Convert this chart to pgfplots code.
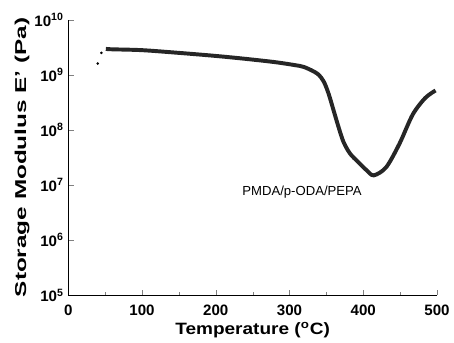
\documentclass[border=0pt]{standalone}
\usepackage{fontspec}
\setmainfont{Liberation Sans}
\usepackage{pgfplots}
\pgfplotsset{compat=1.18}
\begin{document}
\begin{tikzpicture}
\begin{axis}[
  scale only axis,
  width=281pt, height=210pt,
  xmin=0, xmax=500,
  ymin=1e5, ymax=1e10,
  ymode=log, log basis y=10,
  axis lines*=left,
  axis line style={line width=0.8pt},
  tick align=inside,
  xtick={0,100,200,300,400,500},
  minor x tick num=1,
  ytick={1e5,1e6,1e7,1e8,1e9,1e10},
  tick label style={font=\bfseries\fontsize{11.5}{13}\selectfont},
  xticklabel style={yshift=-4pt},
  /pgf/number format/assume math mode=true,
  yticklabel={\bfseries 10\textsuperscript{\pgfmathprintnumber[fixed,precision=0]{\tick}}},
  xlabel={\scalebox{1.45}[1.25]{\bfseries Temperature (\textsuperscript{o}C)}},
  ylabel={\scalebox{1.85}[1.2]{\bfseries Storage Modulus E' (Pa)}},
  xlabel style={yshift=2pt},
  ylabel style={yshift=-3pt},
  clip=false,
]
\addplot[only marks, mark=*, mark size=0.8pt, black] coordinates {(40,1.6e9) (45,2.5e9)};
\addplot[line width=3pt, black!85, smooth] coordinates {
(51,2.95e9) (60,2.9e9) (100,2.8e9) (150,2.5e9) (200,2.2e9) (240,1.95e9) (280,1.7e9) (307,1.5e9)
(320,1.38e9) (337.7,1.05e9) (346.7,7.4e8) (353.3,4.4e8) (360,2.2e8) (366.7,1.1e8) (373.3,6.0e7)
(382.2,3.7e7) (393.3,2.6e7) (404.4,1.86e7) (414.2,1.5e7) (431,2.1e7) (449,5.6e7) (467,1.9e8)
(484,3.8e8) (498,5.2e8)
};
\node[font=\normalsize] at (axis cs:317,7.5e6) {PMDA/p-ODA/PEPA};
\end{axis}
\path (current axis.north west) ++(0,15pt);
\path (current axis.south west) ++(0,-33pt);
\path (current axis.west) ++(-52pt,0);
\end{tikzpicture}
\end{document}
